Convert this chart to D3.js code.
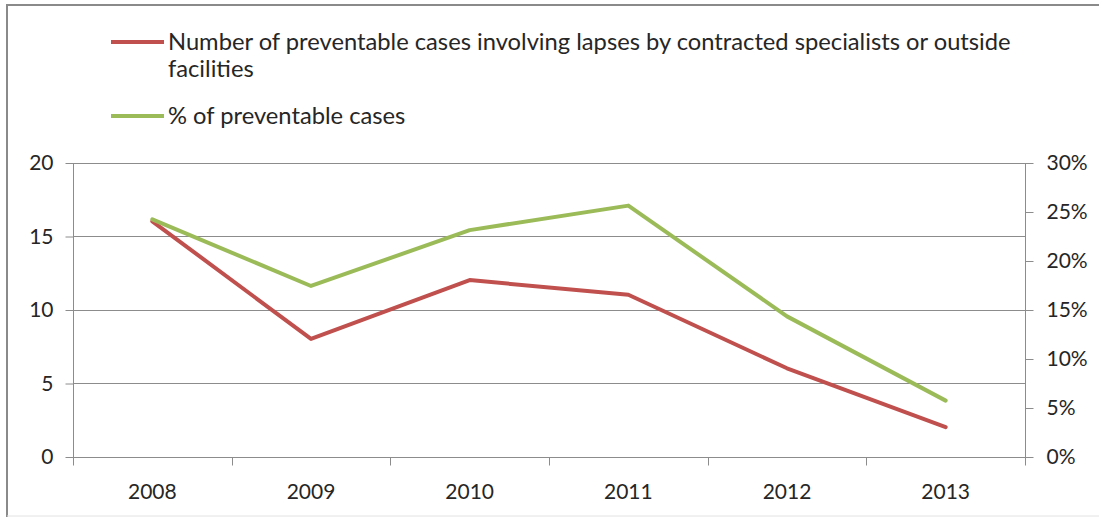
<!DOCTYPE html>
<html>
<head>
<meta charset="utf-8">
<script src="https://cdn.jsdelivr.net/npm/d3@7"></script>
<style>
  html, body { margin: 0; padding: 0; background: #fff; }
  svg { display: block; }
  text { font-family: Lato, "Open Sans", sans-serif; fill: #262626; }
</style>
</head>
<body>
<svg id="chart" width="1099" height="517"></svg>
<script>
// Chart data
const years = ["2008", "2009", "2010", "2011", "2012", "2013"];
const preventableLapses = [16, 8, 12, 11, 6, 2];
const preventablePct = [0.242, 0.174, 0.231, 0.256, 0.143, 0.057];
const leftTicks = [0, 5, 10, 15, 20];
const rightTicks = [0, 0.05, 0.10, 0.15, 0.20, 0.25, 0.30];
const seriesNames = [
  ["Number of preventable cases involving lapses by contracted specialists or outside", "facilities"],
  ["% of preventable cases"]
];
const colors = ["#C0504D", "#9BBB59"];

const W = 1099, H = 517;
const plot = { left: 73, right: 1025, top: 162.5, bottom: 456.5 };
const axisFont = "21px";
const svg = d3.select("#chart");

// Outer frame
svg.append("rect").attr("x", 0).attr("y", 0).attr("width", W).attr("height", H).attr("fill", "#fff");
svg.append("line").attr("x1", 6).attr("x2", W).attr("y1", 5).attr("y2", 5)
  .attr("stroke", "#8a8a8a").attr("stroke-width", 2);
svg.append("line").attr("x1", 7).attr("x2", 7).attr("y1", 4).attr("y2", H)
  .attr("stroke", "#8a8a8a").attr("stroke-width", 2);
svg.append("line").attr("x1", 7).attr("x2", W).attr("y1", 516).attr("y2", 516)
  .attr("stroke", "#e2e2e2").attr("stroke-width", 1);

// Scales
const x = d3.scaleBand().domain(years).range([plot.left, plot.right]);
const yL = d3.scaleLinear().domain([0, 20]).range([plot.bottom, plot.top]);
const yR = d3.scaleLinear().domain([0, 0.30]).range([plot.bottom, plot.top]);

// Horizontal gridlines
svg.append("g").selectAll("line").data(leftTicks).join("line")
  .attr("x1", plot.left).attr("x2", plot.right)
  .attr("y1", d => Math.round(yL(d)) + 0.5).attr("y2", d => Math.round(yL(d)) + 0.5)
  .attr("stroke", "#8c8c8c").attr("stroke-width", 1);

// Left axis
const axL = svg.append("g").attr("transform", `translate(${plot.left + 0.5},0.5)`)
  .call(d3.axisLeft(yL).tickValues(leftTicks).tickSize(8).tickPadding(12).tickFormat(d3.format("d")));
// Right axis
const axR = svg.append("g").attr("transform", `translate(${plot.right + 0.5},0.5)`)
  .call(d3.axisRight(yR).tickValues(rightTicks).tickSize(8).tickPadding(13).tickFormat(d3.format(".0%")));
// Bottom axis: ticks at category boundaries
const bounds = years.map(d => x(d)).concat([plot.right]);
const axB = svg.append("g").attr("transform", `translate(0,${Math.round(plot.bottom) + 0.5})`);
axB.append("line").attr("x1", plot.left).attr("x2", plot.right).attr("stroke", "#8c8c8c");
axB.selectAll("line.tick").data(bounds).join("line").attr("class", "tick")
  .attr("x1", d => Math.round(d) + 0.5).attr("x2", d => Math.round(d) + 0.5)
  .attr("y1", 0).attr("y2", 8).attr("stroke", "#8c8c8c");
axB.selectAll("text").data(years).join("text")
  .attr("x", d => x(d) + x.bandwidth() / 2).attr("y", 41)
  .attr("text-anchor", "middle").style("font-size", axisFont).text(d => d);

[axL, axR].forEach(g => {
  g.select(".domain").attr("stroke", "#8c8c8c");
  g.selectAll(".tick line").attr("stroke", "#8c8c8c");
  g.selectAll(".tick text").style("font-size", axisFont).attr("fill", "#262626")
    .style("font-family", "Lato, 'Open Sans', sans-serif");
});
axL.select(".domain").attr("d", `M0,${plot.top}V${plot.bottom}`);
axR.select(".domain").attr("d", `M0,${plot.top}V${plot.bottom + 8}`);

// Series lines
const cx = d => x(d) + x.bandwidth() / 2;
const lineL = d3.line().x((d, i) => cx(years[i])).y(d => yL(d));
const lineR = d3.line().x((d, i) => cx(years[i])).y(d => yR(d));
svg.append("path").datum(preventableLapses).attr("d", lineL)
  .attr("fill", "none").attr("stroke", colors[0]).attr("stroke-width", 4)
  .attr("stroke-linejoin", "round").attr("stroke-linecap", "round");
svg.append("path").datum(preventablePct).attr("d", lineR)
  .attr("fill", "none").attr("stroke", colors[1]).attr("stroke-width", 4)
  .attr("stroke-linejoin", "round").attr("stroke-linecap", "round");

// Legend
const legend = svg.append("g");
const legendRows = [
  { y: 42, lines: seriesNames[0], color: colors[0] },
  { y: 116, lines: seriesNames[1], color: colors[1] }
];
legendRows.forEach(r => {
  legend.append("line").attr("x1", 111).attr("x2", 164).attr("y1", r.y).attr("y2", r.y)
    .attr("stroke", r.color).attr("stroke-width", 4);
  const t = legend.append("text").attr("x", 168).attr("y", r.y + 8).style("font-size", "21px");
  r.lines.forEach((s, i) => {
    t.append("tspan").attr("x", 168).attr("dy", i === 0 ? 0 : 27).text(s);
  });
});
// Size legend text so the first line spans its box width
const first = legend.select("text tspan").node();
const len = first.getComputedTextLength();
const fs = 21 * 843 / len;
legend.selectAll("text").style("font-size", fs.toFixed(2) + "px");
</script>
</body>
</html>
